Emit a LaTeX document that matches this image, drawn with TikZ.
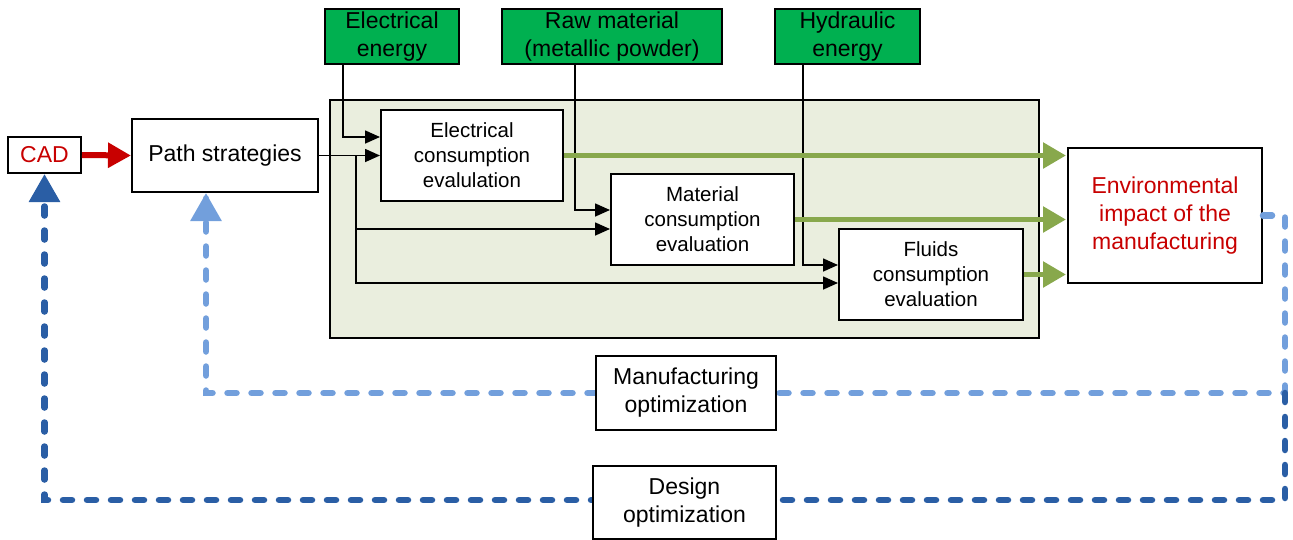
\documentclass[tikz,border=0pt]{standalone}
\usepackage{fontspec}
\setmainfont{Liberation Sans}
\usetikzlibrary{arrows.meta}
\definecolor{srcgreen}{RGB}{0,176,80}
\definecolor{panelfill}{RGB}{234,238,222}
\definecolor{flowgreen}{RGB}{136,168,76}
\definecolor{cadred}{RGB}{200,0,0}
\definecolor{lightblue}{RGB}{114,159,220}
\definecolor{darkblue}{RGB}{42,94,165}
\tikzset{
  box/.style={draw, line width=2pt, fill=white, align=center, inner sep=0pt,
    font=\fontsize{23}{28}\selectfont},
  evalbox/.style={box, font=\fontsize{20.5}{25}\selectfont},
  srcbox/.style={box, fill=srcgreen},
  panelbox/.style={draw, line width=2pt, fill=panelfill, inner sep=0pt},
  blk/.style={line width=1.6pt, -{Triangle[length=15pt,width=13pt]}},
  garr/.style={draw=flowgreen, line width=5.5pt, -{Triangle[length=23pt,width=25pt]}, shorten >=1pt},
  redarr/.style={draw=cadred, line width=6pt, -{Triangle[length=23pt,width=24pt]}},
  lbdash/.style={draw=lightblue, line width=6.5pt, line cap=round, dash pattern=on 9pt off 15pt},
  dbdash/.style={draw=darkblue, line width=6.5pt, line cap=round, dash pattern=on 9pt off 15pt},
}
\begin{document}
\begin{tikzpicture}[x=1pt,y=-1pt]
\useasboundingbox (0,0) rectangle (1293,539);
% panel
\node[panelbox, minimum width=709pt, minimum height=238pt] (pan) at (684.5,219) {};
% nodes
\node[box, text=cadred, minimum width=73pt, minimum height=36pt] (cad) at (44.5,155) {CAD};
\node[box, minimum width=186pt, minimum height=73pt] (ps) at (225,155.5) {Path strategies};
\node[srcbox, minimum width=134pt, minimum height=55pt] (eE) at (392,36.5) {Electrical\\energy};
\node[srcbox, minimum width=220pt, minimum height=55pt] (rm) at (612,36.5) {Raw material\\(metallic powder)};
\node[srcbox, minimum width=145pt, minimum height=55pt] (he) at (847.5,36.5) {Hydraulic\\energy};
\node[evalbox, minimum width=182pt, minimum height=91pt] (ee) at (472,155.5) {Electrical\\consumption\\evalulation};
\node[evalbox, minimum width=183pt, minimum height=91pt] (me) at (702.5,219.5) {Material\\consumption\\evaluation};
\node[evalbox, minimum width=184pt, minimum height=91pt] (fe) at (931,274.5) {Fluids\\consumption\\evaluation};
\node[box, text=cadred, minimum width=194pt, minimum height=135pt] (env) at (1165,215.5) {Environmental\\impact of the\\manufacturing};
% black connectors
\coordinate (br) at ([xshift=37pt]ps.east);
\draw[blk] ([xshift=-49pt]eE.south) |- ([yshift=18.5pt]ee.west);
\draw[blk] (ps.east) -- (ee.west);
\draw[blk] (br) |- ([yshift=-9.5pt]me.west);
\draw[blk] (br) |- ([yshift=-8.5pt]fe.west);
\draw[blk] ([xshift=-37pt]rm.south) |- ([yshift=9.5pt]me.west);
\draw[blk] ([xshift=-44.5pt]he.south) |- ([yshift=9.5pt]fe.west);
% green flows
\draw[garr] (ee.east) -- (ee.east -| env.west);
\draw[garr] (me.east) -- (me.east -| env.west);
\draw[garr] (fe.east) -- (fe.east -| env.west);
% red arrow
\draw[redarr] (cad.east) -- (ps.west);
% feedback loops
\coordinate (c1) at (1285,393);
\coordinate (c2) at (206,393);
\coordinate (c3) at (1285,500);
\coordinate (c4) at (44.5,500);
\draw[lbdash] (env.east) -| (c1) -- (c2) -- (c2 |- ps.south);
\draw[draw=lightblue, line width=6pt, -{Triangle[length=28pt,width=30pt]}] ([yshift=-28pt]c2 |- ps.south) -- (c2 |- ps.south);
\draw[dbdash] (c1) -- (c3) -- (c4) -- (cad.south);
\draw[draw=darkblue, line width=6pt, -{Triangle[length=28pt,width=30pt]}] ([yshift=-28pt]cad.south) -- (cad.south);
% optimization boxes
\node[box, minimum width=180pt, minimum height=74pt] (mo) at (686,393) {Manufacturing\\optimization};
\node[box, minimum width=183pt, minimum height=73pt] (do) at (684.5,502.5) {Design\\optimization};
\end{tikzpicture}
\end{document}
